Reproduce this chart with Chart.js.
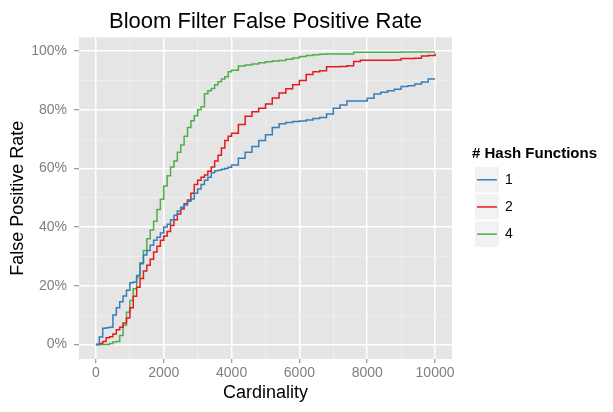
<!DOCTYPE html>
<html>
<head>
<meta charset="utf-8">
<script src="https://cdn.jsdelivr.net/npm/chart.js@4.4.1/dist/chart.umd.min.js"></script>
<style>
  html, body { margin: 0; padding: 0; background: #fff; }
  #wrap { width: 613px; height: 412px; position: relative; }
</style>
</head>
<body>
<div id="wrap"><canvas id="c"></canvas></div>
<script>
// ---- data ----
const cardinality = [0,100,200,300,400,500,600,700,800,900,1000,1100,1200,1300,1400,1500,1600,1700,1800,1900,2000,2100,2200,2300,2400,2500,2600,2700,2800,2900,3000,3100,3200,3300,3400,3500,3600,3700,3800,3900,4000,4200,4400,4600,4800,5000,5200,5400,5600,5800,6000,6200,6400,6600,6800,7000,7200,7400,7600,7800,8000,8200,8400,8600,8800,9000,9200,9400,9600,9800,10000];
const fprHash1 = [0,2.5,5.5,5.7,5.8,10,12.5,14.5,16.5,18.5,21,21.3,23.5,27.5,30.5,32,33.8,35.5,36.5,38,40,41,42.5,44,45.5,46.8,47.5,48.8,49.6,51.5,53,54.5,56,57,58.5,59.2,59.4,59.7,60,60.4,61.2,63.5,65.5,67.5,69.5,71.5,74,75.2,75.7,76,76.2,76.5,77,77.4,78.6,80.5,81.6,83,83,83,83.9,85.4,86,86.5,87,87.9,88.2,88.8,89.5,90.5,90.5];
const fprHash2 = [0,0.3,1,2.3,2.6,3.5,5,5.8,7.3,9,12.5,16.4,19.5,22.5,25,27,29,31.5,33.5,35.5,37,38.5,40.5,42.5,44.5,46.2,48,49.2,51.5,54.5,56,57,57.8,59,60.5,62.5,64.5,67,69.5,71,72,75,77.8,79.3,80.5,82,84,85.7,87.2,88.5,90,92,93,93.3,94.7,94.7,94.8,95,96.5,96.9,96.9,96.9,96.9,96.9,97,97.5,97.5,97.6,98.3,98.5,99.2];
const fprHash4 = [0,0,0,0,0.3,0.8,1,3,6.5,11,15,19,23,27.8,32,36,39,42,46,49.5,54,57.5,60.5,62.5,65.5,68,71,74,76.3,78,80,81,85.5,86.5,87.3,88.5,89.6,90.5,91.3,93,93.5,94.9,95.3,95.6,96,96.4,96.6,96.8,97.2,97.7,98.2,98.5,98.8,98.9,99,99,99,99,99.6,99.6,99.6,99.6,99.6,99.6,99.6,99.7,99.7,99.7,99.7,99.7,99.7];
const seriesNames = ['1', '2', '4'];
const seriesColors = ['#377EB8', '#E41A1C', '#4DAF4A'];
const xTickValues = [0,1000,2000,3000,4000,5000,6000,7000,8000,9000,10000];
const yTickValues = [0,10,20,30,40,50,60,70,80,90,100];

const FONT = '"Liberation Sans", Arial, Helvetica, sans-serif';
Chart.defaults.font.family = FONT;

const series = [fprHash1, fprHash2, fprHash4];
const datasets = series.map((vals, i) => ({
  label: seriesNames[i],
  data: cardinality.map((x, j) => ({ x: x, y: vals[j] })),
  borderColor: seriesColors[i],
  backgroundColor: seriesColors[i],
  borderWidth: 1.5,
  pointRadius: 0,
  stepped: true,
  fill: false,
  tension: 0
}));

const panelBg = {
  id: 'panelBg',
  beforeDraw(chart) {
    const { ctx, chartArea: a } = chart;
    ctx.save();
    ctx.fillStyle = '#E5E5E5';
    ctx.fillRect(a.left, a.top, a.right - a.left, a.bottom - a.top);
    ctx.restore();
  }
};

const ggLegend = {
  id: 'ggLegend',
  afterDraw(chart) {
    const ctx = chart.ctx;
    ctx.save();
    ctx.textBaseline = 'middle';
    ctx.textAlign = 'left';
    ctx.fillStyle = '#000';
    ctx.font = 'bold 15px ' + FONT;
    ctx.fillText('# Hash Functions', 472, 154);
    ctx.font = '14px ' + FONT;
    seriesNames.forEach((name, i) => {
      const y0 = 167 + i * 27.2;
      ctx.fillStyle = '#F2F2F2';
      ctx.fillRect(475, y0, 24, 25.5);
      ctx.strokeStyle = seriesColors[i];
      ctx.lineWidth = 1.5;
      ctx.beginPath();
      ctx.moveTo(477, y0 + 12.75);
      ctx.lineTo(497, y0 + 12.75);
      ctx.stroke();
      ctx.fillStyle = '#000';
      ctx.fillText(name, 505, y0 + 13);
    });
    ctx.restore();
  }
};

new Chart(document.getElementById('c'), {
  type: 'line',
  data: { datasets },
  plugins: [panelBg, ggLegend],
  options: {
    responsive: true,
    maintainAspectRatio: false,
    animation: false,
    layout: { padding: { left: 0, right: 161, top: 0, bottom: 0 } },
    plugins: {
      legend: { display: false },
      tooltip: { enabled: false },
      title: {
        display: true,
        text: 'Bloom Filter False Positive Rate',
        fullSize: false,
        color: '#000',
        font: { size: 22, weight: 'normal', family: FONT },
        padding: { top: 9, bottom: 2 }
      }
    },
    scales: {
      x: {
        type: 'linear',
        min: -500,
        max: 10500,
        afterBuildTicks(scale) { scale.ticks = xTickValues.map(v => ({ value: v })); },
        afterFit(scale) { scale.height = 53; },
        border: { display: false },
        grid: {
          color: c => (c.tick && c.tick.value % 2000 === 0) ? '#FFFFFF' : '#F2F2F2',
          lineWidth: c => (c.tick && c.tick.value % 2000 === 0) ? 1.5 : 0.7,
          tickColor: c => (c.tick && c.tick.value % 2000 === 0) ? '#7F7F7F' : 'rgba(0,0,0,0)',
          tickLength: 4,
          tickWidth: 1
        },
        ticks: {
          autoSkip: false,
          maxRotation: 0,
          color: '#7F7F7F',
          font: { size: 14 },
          padding: 2,
          callback: v => (v % 2000 === 0 ? String(v) : '')
        },
        title: {
          display: true,
          text: 'Cardinality',
          color: '#000',
          font: { size: 18 },
          padding: { top: 0, bottom: 8 }
        }
      },
      y: {
        type: 'linear',
        min: -4.985,
        max: 104.685,
        afterBuildTicks(scale) { scale.ticks = yTickValues.map(v => ({ value: v })); },
        afterFit(scale) { scale.width = 79; },
        border: { display: false },
        grid: {
          color: c => (c.tick && c.tick.value % 20 === 0) ? '#FFFFFF' : '#F2F2F2',
          lineWidth: c => (c.tick && c.tick.value % 20 === 0) ? 1.5 : 0.7,
          tickColor: c => (c.tick && c.tick.value % 20 === 0) ? '#7F7F7F' : 'rgba(0,0,0,0)',
          tickLength: 5,
          tickWidth: 1
        },
        ticks: {
          autoSkip: false,
          color: '#7F7F7F',
          font: { size: 14 },
          padding: 7,
          callback: v => (v % 20 === 0 ? v + '%' : '')
        },
        title: {
          display: true,
          text: 'False Positive Rate',
          color: '#000',
          font: { size: 18 },
          padding: { top: 7, bottom: 0 }
        }
      }
    }
  }
});
</script>
</body>
</html>
